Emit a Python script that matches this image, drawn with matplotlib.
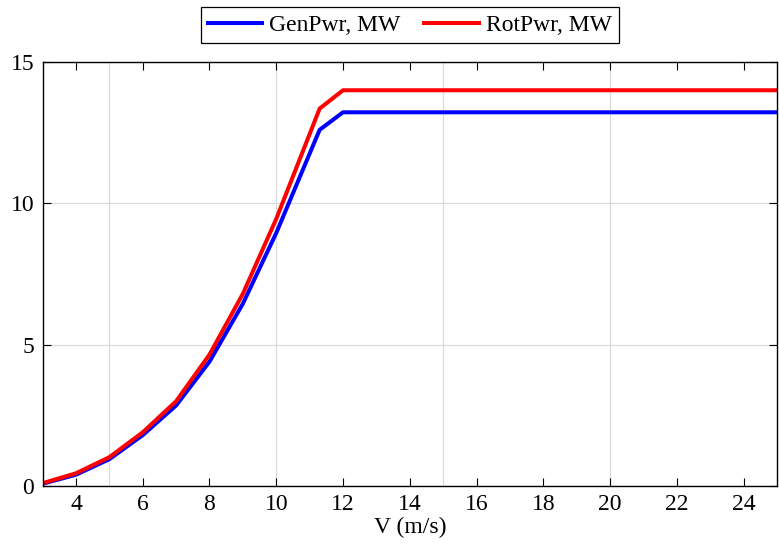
import matplotlib
matplotlib.use("Agg")
import matplotlib.pyplot as plt

# wind speed (m/s) and power curves (MW)
wind_speed = [3, 4, 5, 6, 7, 8, 9, 10, 11.3, 12, 25]
gen_pwr = [0.08, 0.40, 0.95, 1.80, 2.85, 4.40, 6.45, 8.95, 12.6, 13.22, 13.22]
rot_pwr = [0.10, 0.45, 1.02, 1.90, 3.00, 4.65, 6.80, 9.45, 13.35, 14.0, 14.0]

x_ticks = [4, 6, 8, 10, 12, 14, 16, 18, 20, 22, 24]
y_ticks = [0, 5, 10, 15]
x_grid = [5, 10, 15, 20]

plt.rcParams["font.family"] = ["Liberation Serif", "DejaVu Serif"]

fig = plt.figure(figsize=(7.79, 5.48), dpi=100)
ax = fig.add_axes([0.0547, 0.1131, 0.9426, 0.7738])

ax.plot(wind_speed, gen_pwr, color="#0000ff", linewidth=2.9, label="GenPwr, MW")
ax.plot(wind_speed, rot_pwr, color="#ff0000", linewidth=2.9, label="RotPwr, MW")

ax.set_xlim(3, 25)
ax.set_ylim(0, 15)
ax.set_xticks(x_ticks)
ax.set_yticks(y_ticks)
ax.tick_params(direction="in", top=True, right=True,
               length=6, width=0.8, labelsize=17, pad=6)
for xg in x_grid:
    ax.axvline(xg, color="#d9d9d9", linewidth=0.9, zorder=0)
ax.grid(axis="y", color="#d9d9d9", linewidth=0.9)
ax.set_axisbelow(True)
for sp in ax.spines.values():
    sp.set_linewidth(1.0)

ax.set_xlabel("V (m/s)", fontsize=17, labelpad=1)

leg = ax.legend(loc="lower center", bbox_to_anchor=(0.5, 1.045), ncol=2,
                fontsize=17, frameon=True, fancybox=False, edgecolor="black",
                framealpha=1, handlelength=2.3, handletextpad=0.3,
                columnspacing=1.0, borderpad=0.3, borderaxespad=0)
leg.get_frame().set_linewidth(0.9)

fig.savefig("out.png", dpi=100)
